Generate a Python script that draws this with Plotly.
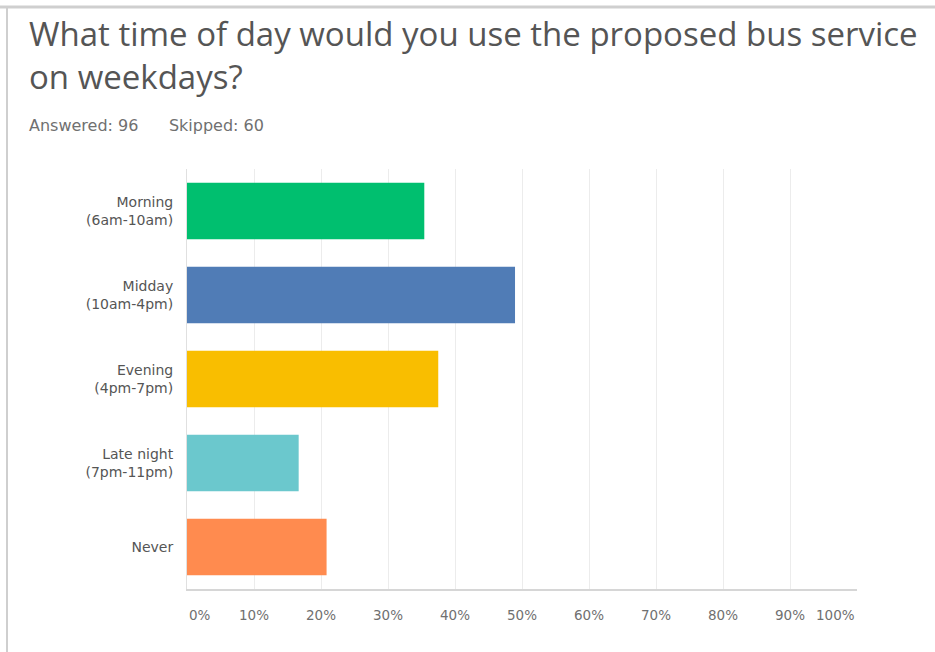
import plotly.graph_objects as go

categories = ["Morning<br>(6am-10am)", "Midday<br>(10am-4pm)", "Evening<br>(4pm-7pm)",
              "Late night<br>(7pm-11pm)", "Never"]
counts = [34, 47, 36, 16, 20]
answered = 96
skipped = 60
percent = [c / answered * 100 for c in counts]
colors = ["#00BF6F", "#507CB6", "#F9BE00", "#6BC8CD", "#FF8B4F"]
tick_vals = [0, 10, 20, 30, 40, 50, 60, 70, 80, 90, 100]
tick_text = [f"{v}%" for v in tick_vals]

W, H = 935, 652
L, R, T, B = 187, 78, 169, 63
pw = W - L - R
ph = H - T - B

def px(x):
    return (x - L) / pw

def py(y):
    return (H - B - y) / ph

fig = go.Figure(go.Bar(
    x=percent, y=categories, orientation="h",
    marker=dict(color=colors, line=dict(width=0)),
    width=0.67, hoverinfo="x+y",
))

annotations = []
for v, t in zip(tick_vals, tick_text):
    anchor = "left" if v == 0 else ("right" if v == 100 else "center")
    annotations.append(dict(
        x=v, xref="x", y=py(605), yref="paper", text=t, showarrow=False,
        xanchor=anchor, yanchor="top",
        font=dict(family="DejaVu Sans", size=13.5, color="#707070"),
    ))

annotations.append(dict(
    x=px(27), xref="paper", y=py(9), yref="paper",
    text="What time of day would you use the proposed bus service<br>on weekdays?",
    showarrow=False, xanchor="left", yanchor="top", align="left",
    font=dict(family="Open Sans", size=33, color="#555555"),
))
annotations.append(dict(
    x=px(27), xref="paper", y=py(114), yref="paper",
    text=f"Answered: {answered}&nbsp;&nbsp;&nbsp;&nbsp;&nbsp;&nbsp;Skipped: {skipped}",
    showarrow=False, xanchor="left", yanchor="top", align="left",
    font=dict(family="DejaVu Sans", size=16, color="#707070"),
))

shapes = [
    dict(type="line", xref="paper", yref="paper", x0=px(0), x1=px(W), y0=py(7), y1=py(7),
         line=dict(color="#cfcfcf", width=3)),
    dict(type="line", xref="paper", yref="paper", x0=px(7), x1=px(7), y0=py(7), y1=py(H),
         line=dict(color="#cfcfcf", width=2)),
]

fig.update_layout(
    width=W, height=H,
    margin=dict(l=L, r=R, t=T, b=B),
    paper_bgcolor="white", plot_bgcolor="white",
    showlegend=False,
    bargap=0.33,
    annotations=annotations,
    shapes=shapes,
    xaxis=dict(range=[0, 100], tickvals=tick_vals, showticklabels=False,
               showgrid=True, gridcolor="#ececec", gridwidth=1,
               zeroline=False, showline=True, linecolor="#d6d6d6", linewidth=2,
               fixedrange=True),
    yaxis=dict(categoryorder="array", categoryarray=categories[::-1],
               autorange=False, range=[-0.5, 4.5],
               showgrid=False, zeroline=False, showline=True, linecolor="#e0e0e0", linewidth=1,
               ticks="", ticklabelstandoff=10,
               tickfont=dict(family="DejaVu Sans", size=14, color="#555555"),
               fixedrange=True),
)

fig.write_html("out.html")
